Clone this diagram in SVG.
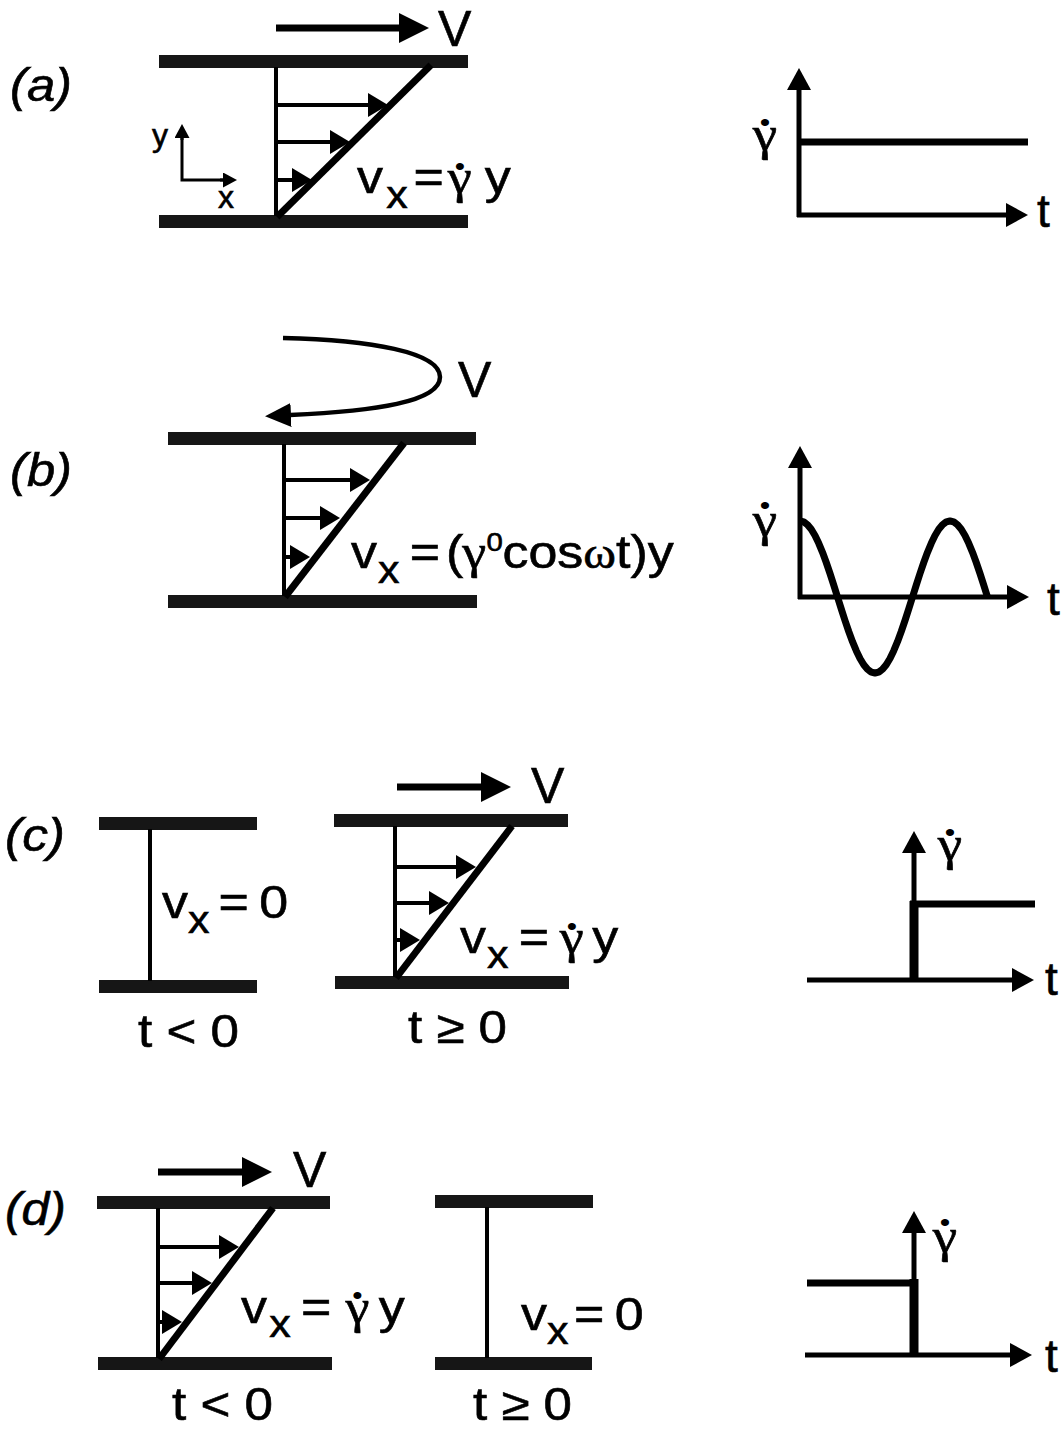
<svg xmlns="http://www.w3.org/2000/svg" width="1064" height="1431" viewBox="0 0 1064 1431">
<style>
text{font-family:"Liberation Sans",Arial,sans-serif;fill:#000;stroke:#000;stroke-width:0.6}
.lab{font-size:46px;font-style:italic}
.m{font-size:46px}
.V{font-size:50px}
.f{font-size:46px}
.sub{font-size:38px}
.g{font-family:"Liberation Serif","Times New Roman",serif;font-size:48px}
.dot{font-family:"Liberation Sans",Arial,sans-serif;font-size:26px;stroke-width:0}
.plate{fill:#161616}
.thin{stroke:#000;stroke-width:4;fill:none}
.diag{stroke:#000;stroke-width:7;fill:none}
.vel{stroke:#000;stroke-width:4;marker-end:url(#mP)}
.big{stroke:#000;stroke-width:7;fill:none;marker-end:url(#mV)}
.small{stroke:#000;stroke-width:3;marker-end:url(#mS)}
.axis{stroke:#000;stroke-width:5;marker-end:url(#mG)}
.data{stroke:#000;stroke-width:7;fill:none;stroke-linejoin:round}
</style>
<defs>
<marker id="mV" markerUnits="userSpaceOnUse" markerWidth="31" markerHeight="31" refX="1" refY="15" orient="auto"><path d="M0,0 L30,15 L0,30 z" fill="#000"/></marker>
<marker id="mC" markerUnits="userSpaceOnUse" markerWidth="27" markerHeight="25" refX="1" refY="12" orient="auto"><path d="M0,0 L26,12 L0,24 z" fill="#000"/></marker>
<marker id="mP" markerUnits="userSpaceOnUse" markerWidth="21" markerHeight="25" refX="1" refY="12" orient="auto"><path d="M0,0 L20,12 L0,24 z" fill="#000"/></marker>
<marker id="mS" markerUnits="userSpaceOnUse" markerWidth="15" markerHeight="16" refX="1" refY="7.5" orient="auto"><path d="M0,0 L14,7.5 L0,15 z" fill="#000"/></marker>
<marker id="mG" markerUnits="userSpaceOnUse" markerWidth="23" markerHeight="25" refX="1" refY="12" orient="auto"><path d="M0,0 L22,12 L0,24 z" fill="#000"/></marker>
</defs>

<!-- Panel (a) -->
<g id="panel-a">
  <text class="lab" x="10" y="101" textLength="62" lengthAdjust="spacingAndGlyphs">(a)</text>
  <g id="a-flow">
    <line class="big" x1="276" y1="28" x2="400" y2="28"/>
    <text class="V" x="438" y="46">V</text>
    <rect class="plate" x="159" y="55" width="309" height="13"/>
    <rect class="plate" x="159" y="215" width="309" height="13"/>
    <line class="thin" x1="276" y1="67" x2="276" y2="216"/>
    <line class="diag" x1="277" y1="217" x2="431" y2="65"/>
    <line class="vel" x1="276" y1="105" x2="369" y2="105"/>
    <line class="vel" x1="276" y1="142" x2="331" y2="142"/>
    <line class="vel" x1="276" y1="180" x2="293" y2="180"/>
    <polyline points="182,137 182,180 224,180" fill="none" stroke="#000" stroke-width="3"/>
    <line class="small" x1="182" y1="140" x2="182" y2="137"/>
    <line class="small" x1="220" y1="180" x2="224" y2="180"/>
    <text x="152" y="146" style="font-size:32px">y</text>
    <text x="218" y="208" style="font-size:32px">x</text>
    <text class="f" transform="translate(357,193) scale(1.13,1)"><tspan x="0" y="0">v</tspan><tspan class="sub" x="26" y="15">x</tspan><tspan x="50" y="0">=</tspan><tspan class="g" x="91" y="0" text-anchor="middle">γ</tspan><tspan class="dot" x="91" y="-18" text-anchor="middle">•</tspan><tspan x="113" y="0">y</tspan></text>
  </g>
  <g id="a-graph">
    <line class="axis" x1="799" y1="217" x2="799" y2="89"/>
    <line class="axis" x1="797" y1="215" x2="1007" y2="215"/>
    <line class="data" x1="799" y1="142" x2="1028" y2="142"/>
    <text class="g" text-anchor="middle" transform="translate(765,150) scale(1.15,1)">γ<tspan class="dot" x="0" y="-19">•</tspan></text>
    <text class="m" x="1037" y="227">t</text>
  </g>
</g>

<!-- Panel (b) -->
<g id="panel-b">
  <text class="lab" x="10" y="486" textLength="62" lengthAdjust="spacingAndGlyphs">(b)</text>
  <g id="b-flow">
    <path d="M283,338 C370,340 440,352 440,377 C440,402 375,411 290,415" fill="none" stroke="#000" stroke-width="4.5" marker-end="url(#mC)"/>
    <text class="V" x="458" y="397">V</text>
    <rect class="plate" x="168" y="432" width="308" height="13"/>
    <rect class="plate" x="168" y="595" width="309" height="13"/>
    <line class="thin" x1="284" y1="444" x2="284" y2="596"/>
    <line class="diag" x1="285" y1="597" x2="404" y2="443"/>
    <line class="vel" x1="284" y1="480" x2="351" y2="480"/>
    <line class="vel" x1="284" y1="518" x2="321" y2="518"/>
    <line class="vel" x1="284" y1="557" x2="291" y2="557"/>
    <text class="f" transform="translate(351,568) scale(1.13,1)"><tspan x="0" y="0">v</tspan><tspan class="sub" x="24" y="15">x</tspan><tspan x="52" y="0">=</tspan><tspan x="84" y="0">(</tspan><tspan class="g" x="109" y="0" text-anchor="middle">γ</tspan><tspan x="120" y="-17" style="font-size:26px">0</tspan><tspan x="134" y="0">cos</tspan><tspan class="g" style="font-size:44px">ω</tspan><tspan>t)y</tspan></text>
  </g>
  <g id="b-graph">
    <line class="axis" x1="800" y1="599" x2="800" y2="467"/>
    <line class="axis" x1="798" y1="597" x2="1008" y2="597"/>
    <polyline class="data" points="800,521 803.75,521.9 807.5,524.7 811.25,529.3 815,535.5 818.75,543.3 822.5,552.3 826.25,562.5 830,573.5 833.75,585.1 837.5,597 841.25,608.9 845,620.5 848.75,631.5 852.5,641.7 856.25,650.7 860,658.5 863.75,664.7 867.5,669.3 871.25,672.1 875,673 878.75,672.1 882.5,669.3 886.25,664.7 890,658.5 893.75,650.7 897.5,641.7 901.25,631.5 905,620.5 908.75,608.9 912.5,597 916.25,585.1 920,573.5 923.75,562.5 927.5,552.3 931.25,543.3 935,535.5 938.75,529.3 942.5,524.7 946.25,521.9 950,521 953.75,521.9 957.5,524.7 961.25,529.3 965,535.5 968.75,543.3 972.5,552.3 976.25,562.5 980,573.5 983.75,585.1 987.5,597"/>
    <text class="g" text-anchor="middle" transform="translate(765,536) scale(1.15,1)">γ<tspan class="dot" x="0" y="-22">•</tspan></text>
    <text class="m" x="1047" y="615">t</text>
  </g>
</g>

<!-- Panel (c) -->
<g id="panel-c">
  <text class="lab" x="5" y="851" textLength="60" lengthAdjust="spacingAndGlyphs">(c)</text>
  <g id="c-before">
    <rect class="plate" x="99" y="817" width="158" height="13"/>
    <rect class="plate" x="99" y="980" width="158" height="13"/>
    <line class="thin" x1="150" y1="829" x2="150" y2="981"/>
    <text class="f" transform="translate(162,918) scale(1.13,1)"><tspan x="0" y="0">v</tspan><tspan class="sub" x="23" y="15">x</tspan><tspan x="50" y="0">=</tspan><tspan x="86" y="0">0</tspan></text>
    <text class="m" x="138" y="1047" textLength="101" lengthAdjust="spacingAndGlyphs">t &lt; 0</text>
  </g>
  <g id="c-after">
    <line class="big" x1="397" y1="787" x2="482" y2="787"/>
    <text class="V" x="531" y="803">V</text>
    <rect class="plate" x="334" y="814" width="234" height="13"/>
    <rect class="plate" x="335" y="976" width="234" height="13"/>
    <line class="thin" x1="395" y1="826" x2="395" y2="977"/>
    <line class="diag" x1="396" y1="978" x2="512" y2="826"/>
    <line class="vel" x1="395" y1="867" x2="457" y2="867"/>
    <line class="vel" x1="395" y1="903" x2="430" y2="903"/>
    <line class="vel" x1="395" y1="940" x2="401" y2="940"/>
    <text class="f" transform="translate(460,953) scale(1.13,1)"><tspan x="0" y="0">v</tspan><tspan class="sub" x="24" y="15">x</tspan><tspan x="52" y="0">=</tspan><tspan class="g" x="99" y="0" text-anchor="middle">γ</tspan><tspan class="dot" x="99" y="-18" text-anchor="middle">•</tspan><tspan x="117" y="0">y</tspan></text>
    <text class="m" x="408" y="1043" textLength="99" lengthAdjust="spacingAndGlyphs">t ≥ 0</text>
  </g>
  <g id="c-graph">
    <line class="axis" x1="807" y1="980" x2="1013" y2="980"/>
    <line class="axis" x1="914" y1="982" x2="914" y2="852"/>
    <line x1="914" y1="980" x2="914" y2="901" stroke="#000" stroke-width="9"/>
    <line class="data" x1="910" y1="904" x2="1035" y2="904"/>
    <text class="g" text-anchor="middle" transform="translate(950,860) scale(1.15,1)">γ<tspan class="dot" x="0" y="-19">•</tspan></text>
    <text class="m" x="1045" y="995">t</text>
  </g>
</g>

<!-- Panel (d) -->
<g id="panel-d">
  <text class="lab" x="5" y="1225" textLength="61" lengthAdjust="spacingAndGlyphs">(d)</text>
  <g id="d-before">
    <line class="big" x1="158" y1="1172" x2="243" y2="1172"/>
    <text class="V" x="293" y="1187">V</text>
    <rect class="plate" x="97" y="1196" width="233" height="13"/>
    <rect class="plate" x="98" y="1357" width="234" height="13"/>
    <line class="thin" x1="158" y1="1208" x2="158" y2="1358"/>
    <line class="diag" x1="159" y1="1359" x2="273" y2="1208"/>
    <line class="vel" x1="158" y1="1247" x2="220" y2="1247"/>
    <line class="vel" x1="158" y1="1283" x2="193" y2="1283"/>
    <line class="vel" x1="158" y1="1322" x2="163" y2="1322"/>
    <text class="f" transform="translate(241,1323) scale(1.13,1)"><tspan x="0" y="0">v</tspan><tspan class="sub" x="25" y="14">x</tspan><tspan x="53" y="0">=</tspan><tspan class="g" x="103" y="0" text-anchor="middle">γ</tspan><tspan class="dot" x="103" y="-19" text-anchor="middle">•</tspan><tspan x="122" y="0">y</tspan></text>
    <text class="m" x="172" y="1420" textLength="101" lengthAdjust="spacingAndGlyphs">t &lt; 0</text>
  </g>
  <g id="d-after">
    <rect class="plate" x="435" y="1195" width="158" height="13"/>
    <rect class="plate" x="435" y="1357" width="157" height="13"/>
    <line class="thin" x1="487" y1="1207" x2="487" y2="1358"/>
    <text class="f" transform="translate(521,1330) scale(1.13,1)"><tspan x="0" y="0">v</tspan><tspan class="sub" x="23" y="14">x</tspan><tspan x="47" y="0">=</tspan><tspan x="83" y="0">0</tspan></text>
    <text class="m" x="473" y="1420" textLength="99" lengthAdjust="spacingAndGlyphs">t ≥ 0</text>
  </g>
  <g id="d-graph">
    <line class="axis" x1="805" y1="1355" x2="1011" y2="1355"/>
    <line class="axis" x1="914" y1="1357" x2="914" y2="1232"/>
    <line x1="914" y1="1355" x2="914" y2="1279" stroke="#000" stroke-width="9"/>
    <line class="data" x1="807" y1="1283" x2="918" y2="1283"/>
    <text class="g" text-anchor="middle" transform="translate(945,1252) scale(1.15,1)">γ<tspan class="dot" x="0" y="-21">•</tspan></text>
    <text class="m" x="1045" y="1372">t</text>
  </g>
</g>
</svg>
